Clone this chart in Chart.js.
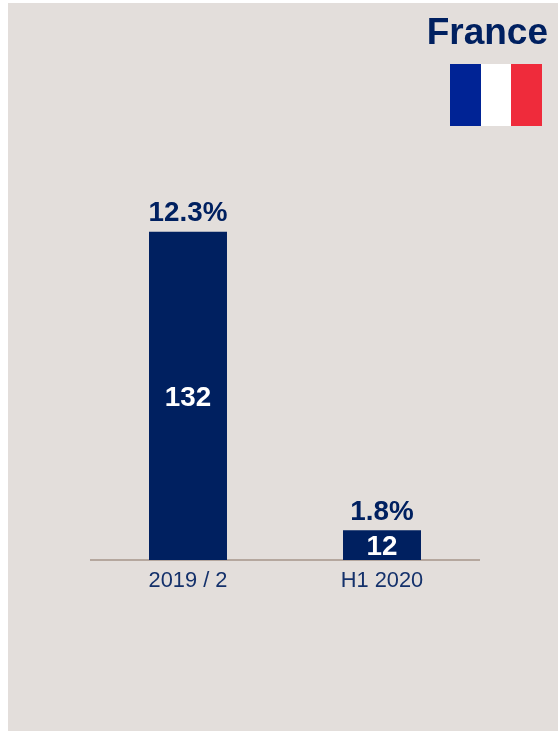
<!DOCTYPE html>
<html>
<head>
<meta charset="utf-8">
<title>France</title>
<script src="https://cdn.jsdelivr.net/npm/chart.js@4"></script>
<style>
  html, body { margin: 0; padding: 0; background: #fff; overflow: hidden; }
  #panel { position: absolute; left: 8px; top: 3px; width: 550px; height: 728px; background: #e3dedb; }
  #chart { position: absolute; left: 0; top: 0; }
  #title {
    position: absolute; right: 10px; top: 11px; margin: 0;
    font: bold 37px "Liberation Sans", Arial, sans-serif; line-height: 42px; color: #002060;
  }
  #flag { position: absolute; left: 450px; top: 64px; width: 92px; height: 62px; display: flex; }
  #flag div { flex: 1; }
</style>
</head>
<body>
<div id="panel"></div>
<canvas id="chart" width="558" height="731"></canvas>
<h1 id="title">France</h1>
<div id="flag">
  <div style="background:#002395"></div>
  <div style="background:#ffffff"></div>
  <div style="background:#ef2b3b"></div>
</div>
<script>
const categories = ["2019 / 2", "H1 2020"];
const values = [132, 12];
const shares = ["12.3%", "1.8%"];

const navy = "#002060";

// Number inside each bar, share above it
const barLabels = {
  id: "barLabels",
  afterDatasetsDraw(chart) {
    const ctx = chart.ctx;
    const bars = chart.getDatasetMeta(0).data;
    ctx.save();
    ctx.textAlign = "center";
    ctx.textBaseline = "middle";
    ctx.font = 'bold 27.8px "Liberation Sans", Arial, sans-serif';
    bars.forEach((bar, i) => {
      ctx.fillStyle = "#ffffff";
      ctx.fillText(values[i], bar.x, (bar.y + bar.base) / 2 + 2.5);
      ctx.fillStyle = navy;
      ctx.fillText(shares[i], bar.x, bar.y - 18);
    });
    ctx.restore();
  },
};

new Chart(document.getElementById("chart"), {
  type: "bar",
  data: {
    labels: categories,
    datasets: [
      {
        data: values,
        backgroundColor: navy,
        categoryPercentage: 1,
        barPercentage: 0.402,
      },
    ],
  },
  options: {
    responsive: false,
    animation: false,
    layout: { padding: { left: 91, right: 79, top: 162, bottom: 0 } },
    plugins: { legend: { display: false }, tooltip: { enabled: false } },
    scales: {
      x: {
        grid: { display: false },
        border: { color: "#b5a79e", width: 2 },
        ticks: {
          color: "#14316b",
          padding: 0,
          maxRotation: 0,
          font: { family: '"Liberation Sans", Arial, sans-serif', size: 21.8 },
        },
        afterFit(scale) {
          scale.height = 171;
        },
      },
      y: { display: false, min: 0, max: 160 },
    },
  },
  plugins: [barLabels],
});
</script>
</body>
</html>
